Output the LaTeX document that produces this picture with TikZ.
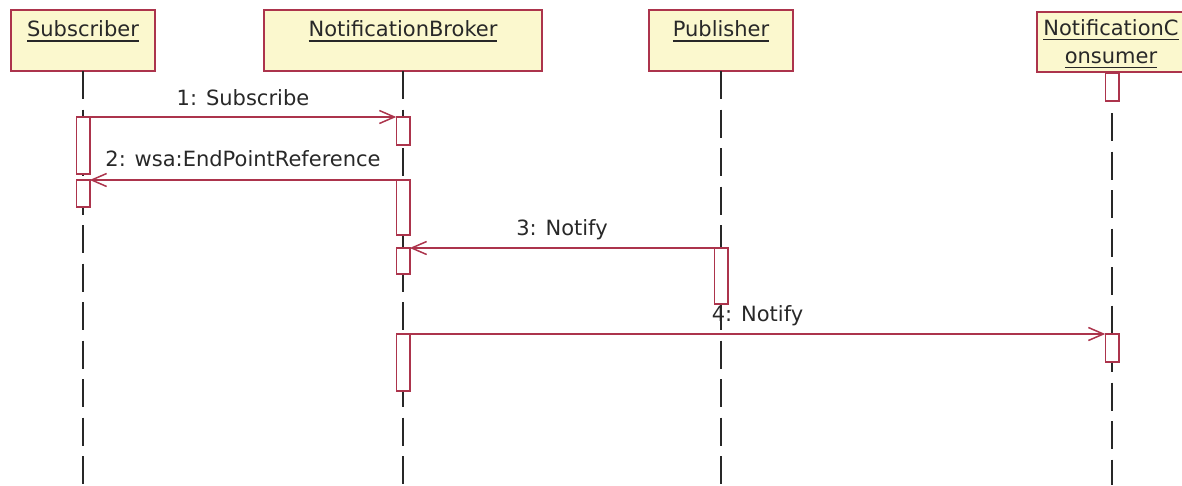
\documentclass[tikz,border=0pt]{standalone}
\usepackage{fontspec}
\setmainfont{DejaVu Sans}
\usetikzlibrary{arrows.meta}
\definecolor{umlred}{RGB}{172,52,76}
\definecolor{umlfill}{RGB}{251,248,206}
\definecolor{lifegray}{RGB}{40,40,40}
\newcommand\myul[1]{\setbox0\hbox{#1}\rlap{\color{lifegray}\rule[-5pt]{\wd0}{1.3pt}}\box0}
\begin{document}
\begin{tikzpicture}[x=1pt,y=-1pt,
  hdr/.style={draw=umlred, fill=umlfill, line width=1.8pt, minimum width=#1, minimum height=61pt, inner sep=0pt, outer sep=0pt},
  ttl/.style={anchor=base, inner sep=0pt, text=lifegray, font=\fontsize{21}{28}\selectfont},
  lbl/.style={anchor=base, inner sep=0pt, text=lifegray, font=\fontsize{21}{26}\selectfont},
  act/.style={draw=umlred, fill=white, line width=1.5pt, minimum width=13.5pt, inner sep=0pt, outer sep=0pt},
  life/.style={draw=lifegray, line width=1.9pt, dash pattern=on 28pt off 10.5pt},
  msg/.style={draw=umlred, line width=1.5pt, -{Straight Barb[length=15pt,width=13pt]}}]
\useasboundingbox (0,0) rectangle (1182,485);
% headers
\node[hdr=144pt] (subH) at (83,40.5) {};
\node[hdr=278pt] (brkH) at (403,40.5) {};
\node[hdr=144pt] (pubH) at (721,40.5) {};
\node[hdr=150pt, minimum height=60pt] (conH) at (1112,42) {};
\node[ttl] (subT) at (83,36.5) {\myul{Subscriber}};
\node[ttl] (brkT) at (403,36.5) {\myul{NotificationBroker}};
\node[ttl] (pubT) at (721,36.5) {\myul{Publisher}};
\node[ttl, align=center] (conT) at (1111,63) {\myul{NotificationC}\\\myul{onsumer}};
% lifeline ends
\coordinate (subE) at (83,485);
\coordinate (brkE) at (403,485);
\coordinate (pubE) at (721,485);
\coordinate (conS) at (1112,102.5);
\coordinate (conE) at (1112,485);
\draw[life] (subH.south) -- (subE);
\draw[life] (brkH.south) -- (brkE);
\draw[life] (pubH.south) -- (pubE);
\draw[life, dash phase=28pt] (conS) -- (conE);
% activations
\node[act, minimum height=57pt] (s1) at (83,145.5) {};
\node[act, minimum height=27pt] (s2) at (83,193.5) {};
\node[act, minimum height=28pt] (b1) at (403,131) {};
\node[act, minimum height=55pt] (b2) at (403,207.5) {};
\node[act, minimum height=26pt] (b3) at (403,261) {};
\node[act, minimum height=57pt] (b4) at (403,362.5) {};
\node[act, minimum height=56pt] (p1) at (721,276) {};
\node[act, minimum height=28pt] (c1) at (1112,87) {};
\node[act, minimum height=28pt] (c2) at (1112,348) {};
% messages
\draw[msg] (s1.north east) -- node[lbl, yshift=11.5pt] (m1) {1: Subscribe} (b1.north west);
\draw[msg] (b2.north west) -- node[lbl, yshift=14pt] (m2) {2: wsa:EndPointReference} (s2.north east);
\draw[msg] (p1.north west) -- node[lbl, yshift=12.7pt] (m3) {3: Notify} (b3.north east);
\draw[msg] (b4.north east) -- node[lbl, yshift=12.3pt] (m4) {4: Notify} (c2.north west);
\end{tikzpicture}
\end{document}
